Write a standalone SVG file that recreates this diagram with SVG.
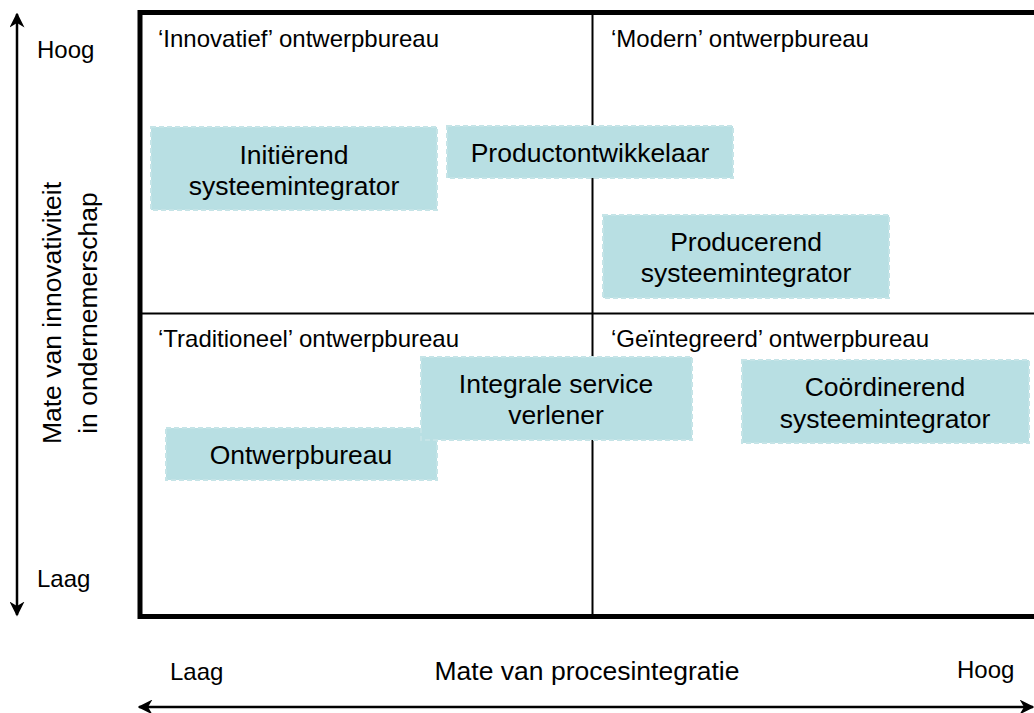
<svg xmlns="http://www.w3.org/2000/svg" width="1034" height="713" viewBox="0 0 1034 713">
<style>
text{font-family:"Liberation Sans",Arial,sans-serif;fill:#000}
.q{font-size:24px}
.b{font-size:26.5px;text-anchor:middle}
.ax{font-size:24px}
.t{font-size:26.5px;text-anchor:middle}
.box{fill:#b8dfe3;stroke:#c5e4e7;stroke-width:2;stroke-dasharray:5 3}
</style>
<defs>
<marker id="ah" viewBox="0 0 10 10" refX="9" refY="5" markerWidth="6" markerHeight="6" orient="auto-start-reverse" markerUnits="strokeWidth">
<path d="M0,0 L10,5 L0,10 L3,5 z" fill="#000"/>
</marker>
</defs>
<rect width="1034" height="713" fill="#fff"/>
<g id="frame">
<rect x="140" y="12.5" width="910" height="604" fill="none" stroke="#000" stroke-width="5"/>
<line x1="592.5" y1="12" x2="592.5" y2="616" stroke="#000" stroke-width="2"/>
<line x1="140" y1="313.5" x2="1040" y2="313.5" stroke="#000" stroke-width="2"/>
</g>
<g id="connectors">
<line x1="17" y1="615" x2="17" y2="14" stroke="#000" stroke-width="2.5" marker-start="url(#ah)" marker-end="url(#ah)"/>
<line x1="139" y1="707" x2="1033" y2="707" stroke="#000" stroke-width="2.5" marker-start="url(#ah)" marker-end="url(#ah)"/>
</g>
<g id="labels">
<text class="q" x="158" y="47">‘Innovatief’ ontwerpbureau</text>
<text class="q" x="611" y="47">‘Modern’ ontwerpbureau</text>
<text class="q" x="158" y="347">‘Traditioneel’ ontwerpbureau</text>
<text class="q" x="611" y="347">‘Geïntegreerd’ ontwerpbureau</text>
<text class="ax" x="37" y="58">Hoog</text>
<text class="ax" x="37" y="587">Laag</text>
<text class="ax" x="170" y="680">Laag</text>
<text class="ax" x="957" y="678">Hoog</text>
<text class="t" x="587" y="680">Mate van procesintegratie</text>
<text class="t" transform="translate(61,313) rotate(-90)">Mate van innovativiteit</text>
<text class="t" transform="translate(97,313) rotate(-90)">in ondernemerschap</text>
</g>
<g id="n-initierend">
<rect class="box" x="151" y="127" width="286" height="83"/>
<text class="b" x="294" y="164">Initiërend</text>
<text class="b" x="294" y="195">systeemintegrator</text>
</g>
<g id="n-productontwikkelaar">
<rect class="box" x="447" y="126" width="286" height="52"/>
<text class="b" x="590" y="162">Productontwikkelaar</text>
</g>
<g id="n-producerend">
<rect class="box" x="603" y="215" width="286" height="83"/>
<text class="b" x="746" y="251">Producerend</text>
<text class="b" x="746" y="282">systeemintegrator</text>
</g>
<g id="n-ontwerpbureau">
<rect class="box" x="166" y="428" width="271" height="52"/>
<text class="b" x="301" y="464">Ontwerpbureau</text>
</g>
<g id="n-integrale">
<rect class="box" x="421" y="357" width="271" height="83"/>
<text class="b" x="556" y="393">Integrale service</text>
<text class="b" x="556" y="424">verlener</text>
</g>
<g id="n-coordinerend">
<rect class="box" x="742" y="360" width="287" height="83"/>
<text class="b" x="885" y="396">Coördinerend</text>
<text class="b" x="885" y="428">systeemintegrator</text>
</g>
</svg>
